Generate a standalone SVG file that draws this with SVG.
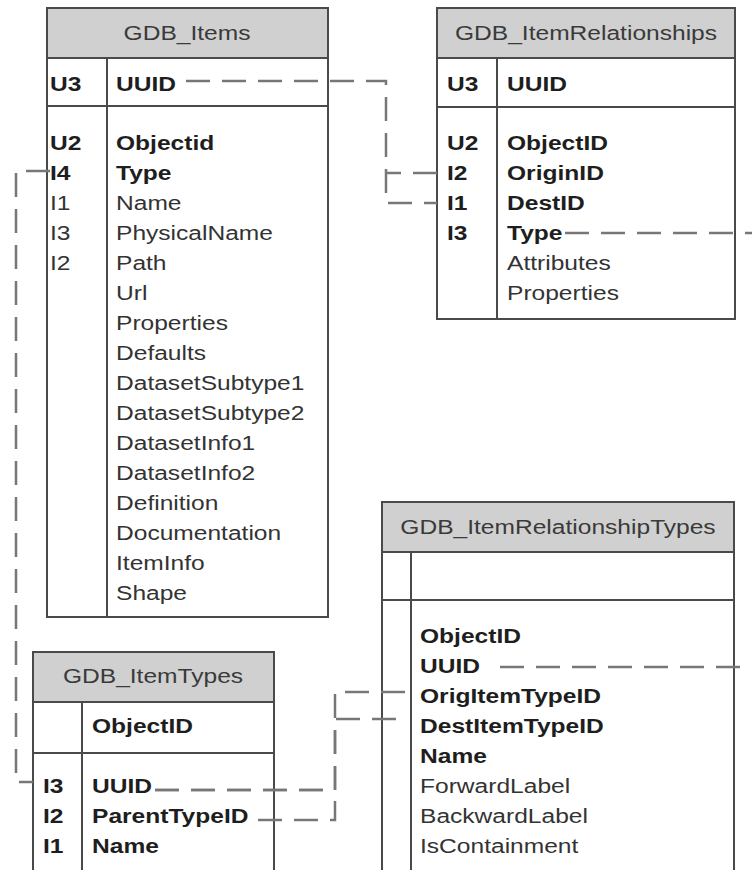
<svg xmlns="http://www.w3.org/2000/svg" width="752" height="870" viewBox="0 0 752 870">
  <style>
    .box { fill: #ffffff; stroke: #4a4a4a; stroke-width: 2; }
    .head { fill: #d0d0d0; stroke: #4a4a4a; stroke-width: 2; }
    .rule { stroke: #4a4a4a; stroke-width: 2; fill: none; }
    text { font-family: "Liberation Sans", Arial, Helvetica, sans-serif; font-size: 21px; fill: #333333; }
    .title { text-anchor: middle; fill: #3a3a3a; }
    .b { font-weight: bold; fill: #1e1e1e; }
    .fk { fill: none; stroke: #777777; stroke-width: 2.5; stroke-dasharray: 24 12; }
  </style>

  <!-- GDB_Items -->
  <g id="gdb-items">
    <rect class="box" x="47" y="8" width="281" height="609"/>
    <rect class="head" x="47" y="8" width="281" height="50"/>
    <line class="rule" x1="47" y1="106" x2="328" y2="106"/>
    <line class="rule" x1="107" y1="58" x2="107" y2="617"/>
    <text class="title" transform="matrix(1.17 0 0 1 187 40)">GDB_Items</text>
    <text class="b" transform="matrix(1.17 0 0 1 50 91)">U3</text>
    <text class="b" transform="matrix(1.17 0 0 1 116 91)">UUID</text>
    <text class="b" transform="matrix(1.17 0 0 1 50 150)">U2</text>
    <text class="b" transform="matrix(1.17 0 0 1 116 150)">Objectid</text>
    <text class="b" transform="matrix(1.17 0 0 1 50 180)">I4</text>
    <text class="b" transform="matrix(1.17 0 0 1 116 180)">Type</text>
    <text transform="matrix(1.17 0 0 1 50 210)">I1</text>
    <text transform="matrix(1.17 0 0 1 116 210)">Name</text>
    <text transform="matrix(1.17 0 0 1 50 240)">I3</text>
    <text transform="matrix(1.17 0 0 1 116 240)">PhysicalName</text>
    <text transform="matrix(1.17 0 0 1 50 270)">I2</text>
    <text transform="matrix(1.17 0 0 1 116 270)">Path</text>
    <text transform="matrix(1.17 0 0 1 116 300)">Url</text>
    <text transform="matrix(1.17 0 0 1 116 330)">Properties</text>
    <text transform="matrix(1.17 0 0 1 116 360)">Defaults</text>
    <text transform="matrix(1.17 0 0 1 116 390)">DatasetSubtype1</text>
    <text transform="matrix(1.17 0 0 1 116 420)">DatasetSubtype2</text>
    <text transform="matrix(1.17 0 0 1 116 450)">DatasetInfo1</text>
    <text transform="matrix(1.17 0 0 1 116 480)">DatasetInfo2</text>
    <text transform="matrix(1.17 0 0 1 116 510)">Definition</text>
    <text transform="matrix(1.17 0 0 1 116 540)">Documentation</text>
    <text transform="matrix(1.17 0 0 1 116 570)">ItemInfo</text>
    <text transform="matrix(1.17 0 0 1 116 600)">Shape</text>
  </g>

  <!-- GDB_ItemRelationships -->
  <g id="gdb-itemrelationships">
    <rect class="box" x="437" y="8" width="298" height="311"/>
    <rect class="head" x="437" y="8" width="298" height="50"/>
    <line class="rule" x1="437" y1="107" x2="735" y2="107"/>
    <line class="rule" x1="497" y1="58" x2="497" y2="319"/>
    <text class="title" transform="matrix(1.17 0 0 1 586 40)">GDB_ItemRelationships</text>
    <text class="b" transform="matrix(1.17 0 0 1 447 91)">U3</text>
    <text class="b" transform="matrix(1.17 0 0 1 507 91)">UUID</text>
    <text class="b" transform="matrix(1.17 0 0 1 447 150)">U2</text>
    <text class="b" transform="matrix(1.17 0 0 1 507 150)">ObjectID</text>
    <text class="b" transform="matrix(1.17 0 0 1 447 180)">I2</text>
    <text class="b" transform="matrix(1.17 0 0 1 507 180)">OriginID</text>
    <text class="b" transform="matrix(1.17 0 0 1 447 210)">I1</text>
    <text class="b" transform="matrix(1.17 0 0 1 507 210)">DestID</text>
    <text class="b" transform="matrix(1.17 0 0 1 447 240)">I3</text>
    <text class="b" transform="matrix(1.17 0 0 1 507 240)">Type</text>
    <text transform="matrix(1.17 0 0 1 507 270)">Attributes</text>
    <text transform="matrix(1.17 0 0 1 507 300)">Properties</text>
  </g>

  <!-- GDB_ItemTypes (continues below the page edge) -->
  <g id="gdb-itemtypes">
    <rect class="box" x="33" y="652" width="241" height="240"/>
    <rect class="head" x="33" y="652" width="241" height="50"/>
    <line class="rule" x1="33" y1="753" x2="274" y2="753"/>
    <line class="rule" x1="82" y1="702" x2="82" y2="892"/>
    <text class="title" transform="matrix(1.17 0 0 1 153 683)">GDB_ItemTypes</text>
    <text class="b" transform="matrix(1.17 0 0 1 92 733)">ObjectID</text>
    <text class="b" transform="matrix(1.17 0 0 1 43 793)">I3</text>
    <text class="b" transform="matrix(1.17 0 0 1 92 793)">UUID</text>
    <text class="b" transform="matrix(1.17 0 0 1 43 823)">I2</text>
    <text class="b" transform="matrix(1.17 0 0 1 92 823)">ParentTypeID</text>
    <text class="b" transform="matrix(1.17 0 0 1 43 853)">I1</text>
    <text class="b" transform="matrix(1.17 0 0 1 92 853)">Name</text>
  </g>

  <!-- GDB_ItemRelationshipTypes (continues below the page edge) -->
  <g id="gdb-itemrelationshiptypes">
    <rect class="box" x="382" y="502" width="352" height="390"/>
    <rect class="head" x="382" y="502" width="352" height="50"/>
    <line class="rule" x1="382" y1="600" x2="734" y2="600"/>
    <line class="rule" x1="411" y1="552" x2="411" y2="892"/>
    <text class="title" transform="matrix(1.17 0 0 1 558 534)">GDB_ItemRelationshipTypes</text>
    <text class="b" transform="matrix(1.17 0 0 1 420 643)">ObjectID</text>
    <text class="b" transform="matrix(1.17 0 0 1 420 673)">UUID</text>
    <text class="b" transform="matrix(1.17 0 0 1 420 703)">OrigItemTypeID</text>
    <text class="b" transform="matrix(1.17 0 0 1 420 733)">DestItemTypeID</text>
    <text class="b" transform="matrix(1.17 0 0 1 420 763)">Name</text>
    <text transform="matrix(1.17 0 0 1 420 793)">ForwardLabel</text>
    <text transform="matrix(1.17 0 0 1 420 823)">BackwardLabel</text>
    <text transform="matrix(1.17 0 0 1 420 853)">IsContainment</text>
  </g>

  <!-- relationship lines -->
  <g id="connectors">
    <path class="fk" d="M186,81 H386 V203 H437"/>
    <path class="fk" d="M437,173 H386"/>
    <path class="fk" d="M50,171 H16 V782 H33"/>
    <path class="fk" d="M565,233 H752"/>
    <path class="fk" d="M500,667 H752"/>
    <path class="fk" d="M155,790 H335 V692 H410"/>
    <path class="fk" d="M155,790 H335 V719 H400"/>
    <path class="fk" d="M258,820 H335 V790"/>
  </g>
</svg>
